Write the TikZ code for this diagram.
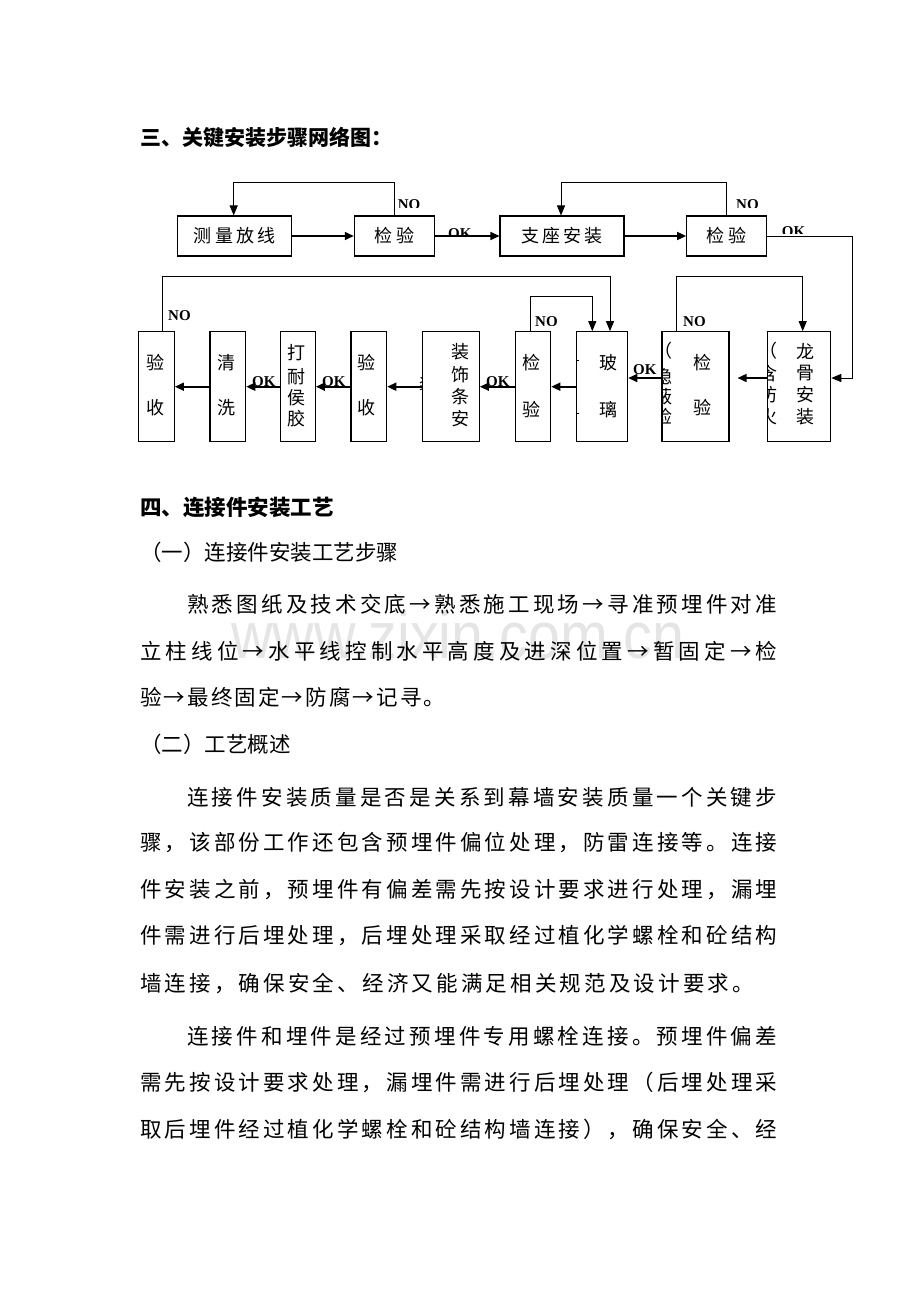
\documentclass[tikz,border=0pt]{standalone}
\usepackage{fontspec}
\setmainfont{Liberation Serif}
\newfontfamily\cjk{Noto Sans CJK SC}
\newfontfamily\wmfont{Liberation Sans}
\usetikzlibrary{arrows.meta}
\makeatletter
\def\spreadchars#1{\spr@a#1\relax}
\def\spr@a#1{#1\spr@b}
\def\spr@b#1{\ifx#1\relax\else\hfill#1\expandafter\spr@b\fi}
\makeatother
\newcommand\jline[2]{\makebox[#1][s]{\spreadchars{#2}}}
\begin{document}
\begin{tikzpicture}[x=1pt,y=-1pt,
  box/.style={draw, line width=1.1pt, inner sep=0, rectangle},
  arr/.style={line width=1.6pt, -{Triangle[length=9pt,width=8pt]}},
  loopln/.style={line width=1pt, -{Triangle[length=10pt,width=8pt]}},
  lbl/.style={font=\fontsize{15}{15}\selectfont\bfseries, inner sep=0, anchor=north west},
  ch/.style={font=\cjk\fontsize{18}{18}\selectfont, inner sep=0},
  bx/.style={font=\cjk\fontsize{18}{18}\selectfont},
  body/.style={font=\cjk\fontsize{21.5}{21.5}\selectfont, inner sep=0, anchor=west},
  head/.style={font=\cjk\bfseries\fontsize{21}{21}\selectfont, inner sep=0, anchor=west}]
\useasboundingbox[fill=white] (0,0) rectangle (920,1302);

% watermark
\node[text=black!10, font=\wmfont\fontsize{66}{66}\selectfont, inner sep=0, anchor=base] (wm) at (458,658) {\scalebox{0.87}[1]{www.zixin.com.cn}};

% heading
\node[head] (h3) at (140,138) {三、关键安装步骤网络图：};

% row 1
\node[box, bx, minimum width=114pt, minimum height=40pt] (b1) at (234.7,236) {\jline{82pt}{测量放线}};
\node[box, bx, minimum width=80pt, minimum height=40pt] (b2) at (394.3,236) {\jline{40pt}{检验}};
\node[box, bx, minimum width=124pt, minimum height=40pt] (b3) at (562,236) {\jline{82pt}{支座安装}};
\node[box, bx, minimum width=80pt, minimum height=40pt] (b4) at (726.7,236) {\jline{40pt}{检验}};

\draw[arr] (b1.east) -- (b2.west);
\draw[arr] (b2.east) -- (b3.west);
\draw[arr] (b3.east) -- (b4.west);
\draw[loopln] (b2.north) -- ++(0,-33.3) -| ([xshift=-1pt]b1.north);
\draw[loopln] (b4.north) -- ++(0,-33.3) -| ([xshift=-1pt]b3.north);

% row 2 boxes
\node[box, minimum width=36pt, minimum height=110pt] (ys1) at (156.3,386.7) {};
\node[box, minimum width=35.7pt, minimum height=110pt] (qx) at (227.85,386.7) {};
\node[box, minimum width=35.3pt, minimum height=110pt] (dn) at (297.7,386.7) {};
\node[box, minimum width=35.7pt, minimum height=110pt] (ys2) at (368.85,386.7) {};
\node[box, minimum width=56.6pt, minimum height=110pt] (zs) at (451,386.7) {};
\node[box, minimum width=35.4pt, minimum height=110pt] (jy3) at (533,386.7) {};
\node[box, minimum width=51pt, minimum height=110pt] (bl) at (602.2,386.7) {};
\node[box, minimum width=67pt, minimum height=110pt] (jy4) at (695.5,386.7) {};
\node[box, minimum width=63pt, minimum height=110pt] (lg) at (799.2,386.7) {};

% row 2 texts
\node[ch] (t1) at (155,363) {验};
\node[ch] (t2) at (155,408) {收};
\node[ch] (t3) at (226.5,363) {清};
\node[ch] (t4) at (226.5,408) {洗};
\node[ch] (t5) at (296,353) {打};
\node[ch] (t6) at (296,376.5) {耐};
\node[ch] (t7) at (296,398) {侯};
\node[ch] (t8) at (296,419) {胶};
\node[ch] (t9) at (366.7,363) {验};
\node[ch] (t10) at (366.7,408) {收};
\node[ch] (t11) at (460,352) {装};
\node[ch] (t12) at (460,375) {饰};
\node[ch] (t13) at (460,397) {条};
\node[ch] (t14) at (460,419) {安};
\node[ch] (t15) at (531,363) {检};
\node[ch] (t16) at (531,410) {验};
\node[ch] (t17) at (608,363) {玻};
\node[ch] (t18) at (608,410) {璃};
\node[ch] (t19) at (702,363) {检};
\node[ch] (t20) at (702,408) {验};
\node[ch] (t21) at (805,352) {龙};
\node[ch] (t22) at (805,373.5) {骨};
\node[ch] (t23) at (805,395) {安};
\node[ch] (t24) at (805,417) {装};

% clipped side texts
\begin{scope}
\clip (662.5,335) rectangle (690,440);
\node[ch] (s1) at (663,351) {（};
\node[ch] (s2) at (663,377) {隐};
\node[ch] (s3) at (663,397) {蔽};
\node[ch] (s4) at (663,417) {检};
\end{scope}
\begin{scope}
\clip (768.2,335) rectangle (790,440);
\node[ch] (s5) at (768,351) {（};
\node[ch] (s6) at (768,373.5) {含};
\node[ch] (s7) at (768,395) {防};
\node[ch] (s8) at (768,417) {火};
\end{scope}
\begin{scope}
\clip (418,374) rectangle (422.2,395);
\node[ch] (s9) at (428,385) {装};
\end{scope}

% ticks on glass box
\draw[line width=0.8pt] (bl.west |- 0,360) -- ++(3,0);
\draw[line width=0.8pt] (bl.west |- 0,413.3) -- ++(3,0);

% row 2 connectors
\coordinate (c1) at (852,378);
\draw[loopln] (b4.east) -| (c1) -- (lg.east |- c1);
\draw[arr, shorten >=8pt] (lg.west |- c1) -- (jy4.east |- c1);
\draw[arr] (jy4.west |- c1) -- (bl.east |- c1);
\draw[arr] (bl.west) -- (jy3.east);
\draw[arr] (jy3.west) -- (zs.east);
\draw[arr] (zs.west) -- (ys2.east);
\draw[arr] (ys2.west) -- (dn.east);
\draw[arr] (dn.west) -- (qx.east);
\draw[arr] (qx.west) -- (ys1.east);

\draw[loopln] ([xshift=6.4pt]ys1.north) -- ++(0,-55) -| ([xshift=7.8pt]bl.north);
\draw[loopln] ([xshift=-2.3pt]jy3.north) -- ++(0,-35) -| ([xshift=-9.9pt]bl.north);
\draw[loopln] ([xshift=-18.8pt]jy4.north) -- ++(0,-55) -| ([xshift=3.5pt]lg.north);

% OK / NO labels (partly hidden)
\begin{scope}\clip (390,190) rectangle (430,207.5); \node[lbl] (no1) at (397.7,199) {NO}; \end{scope}
\begin{scope}\clip (730,190) rectangle (770,207.5); \node[lbl] (no2) at (736,199) {NO}; \end{scope}
\begin{scope}\clip (440,220) rectangle (480,234); \node[lbl] (ok1) at (448,228.5) {OK}; \end{scope}
\begin{scope}\clip (775,218) rectangle (815,233); \node[lbl] (ok2) at (781.7,226.5) {OK}; \end{scope}
\begin{scope}\clip (160,300) rectangle (200,320.5); \node[lbl] (no3) at (168,310) {NO}; \end{scope}
\begin{scope}\clip (530,305) rectangle (570,325.5); \node[lbl] (no4) at (535,316.5) {NO}; \end{scope}
\begin{scope}\clip (678,305) rectangle (720,325.5); \node[lbl] (no5) at (683,316.5) {NO}; \end{scope}
\begin{scope}\clip (630,355) rectangle (661,376.5); \node[lbl] (ok3) at (633,364.5) {OK}; \end{scope}
\begin{scope}\clip (482,368) rectangle (514,385.5); \node[lbl] (ok4) at (486,376.5) {OK}; \end{scope}
\begin{scope}\clip (318,368) rectangle (350,385.5); \node[lbl] (ok5) at (322,376.5) {OK}; \end{scope}
\begin{scope}\clip (248,368) rectangle (279,385.5); \node[lbl] (ok6) at (252,376.5) {OK}; \end{scope}

% text section
\node[head, font=\cjk\bfseries\fontsize{21.5}{21.5}\selectfont] (h4) at (140,507) {四、连接件安装工艺};
\node[body] (p0) at (140,552) {（一）连接件安装工艺步骤};
\node[body] (p1) at (187,604) {\jline{590pt}{熟悉图纸及技术交底→熟悉施工现场→寻准预埋件对准}};
\node[body] (p2) at (140,651) {\jline{637pt}{立柱线位→水平线控制水平高度及进深位置→暂固定→检}};
\node[body] (p3) at (140,697) {\jline{305pt}{验→最终固定→防腐→记寻。}};
\node[body] (p4) at (140,744) {（二）工艺概述};
\node[body] (p5) at (187,797) {\jline{590pt}{连接件安装质量是否是关系到幕墙安装质量一个关键步}};
\node[body] (p6) at (140,843) {\jline{637pt}{骤，该部份工作还包含预埋件偏位处理，防雷连接等。连接}};
\node[body] (p7) at (140,890) {\jline{637pt}{件安装之前，预埋件有偏差需先按设计要求进行处理，漏埋}};
\node[body] (p8) at (140,936) {\jline{637pt}{件需进行后埋处理，后埋处理采取经过植化学螺栓和砼结构}};
\node[body] (p9) at (140,983) {\jline{614pt}{墙连接，确保安全、经济又能满足相关规范及设计要求。}};
\node[body] (p10) at (187,1036) {\jline{590pt}{连接件和埋件是经过预埋件专用螺栓连接。预埋件偏差}};
\node[body] (p11) at (140,1082) {\jline{637pt}{需先按设计要求处理，漏埋件需进行后埋处理（后埋处理采}};
\node[body] (p12) at (140,1129) {\jline{637pt}{取后埋件经过植化学螺栓和砼结构墙连接），确保安全、经}};
\end{tikzpicture}
\end{document}
